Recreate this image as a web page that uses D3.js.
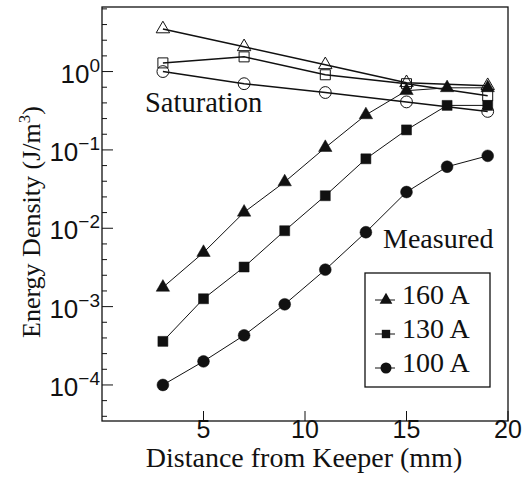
<!DOCTYPE html>
<html>
<head>
<meta charset="utf-8">
<script src="https://cdn.jsdelivr.net/npm/d3@7"></script>
<style>
  body { margin: 0; background: #fff; }
  svg { display: block; }
</style>
</head>
<body>
<svg id="chart" width="523" height="479"></svg>
<script>
// measured series, every 2 mm
const distMeasured = [3, 5, 7, 9, 11, 13, 15, 17, 19];
const measured160 = [0.00176, 0.0049, 0.016, 0.039, 0.107, 0.28, 0.57, 0.62, 0.62];
const measured130 = [0.00036, 0.00126, 0.0032, 0.0093, 0.026, 0.077, 0.18, 0.37, 0.37];
const measured100 = [0.0001, 0.0002, 0.00043, 0.00107, 0.00296, 0.0089, 0.029, 0.061, 0.084];

// saturation series, every 4 mm
const distSat = [3, 7, 11, 15, 19];
const sat160 = [3.5, 2.07, 1.22, 0.72, 0.66];
const sat130 = [1.29, 1.54, 0.91, 0.70, 0.49];
const sat100 = [1.0, 0.70, 0.54, 0.41, 0.31];

const xTicks = [5, 10, 15, 20];
const yExps = [0, -1, -2, -3, -4];
const legendLabels = ["160 A", "130 A", "100 A"];

const svg = d3.select("#chart");
const mLeft = 102, mRight = 508, mTop = 7, mBottom = 421;

const x = d3.scaleLinear().domain([0, 20]).range([mLeft, mRight]);
// ~78.5 px per decade, 10^0 at y=71.7
const y = d3.scaleLog().domain([10 ** -4.46, 10 ** 0.824]).range([mBottom, mTop]);

const serif = "'Liberation Serif', 'Times New Roman', serif";
const sans = "'Liberation Sans', Arial, Helvetica, sans-serif";

// frame
svg.append("rect")
    .attr("x", mLeft).attr("y", mTop)
    .attr("width", mRight - mLeft).attr("height", mBottom - mTop)
    .attr("fill", "none").attr("stroke", "#111").attr("stroke-width", 1.3);

// y ticks: minor every 0.2 decade, inward
const minor = d3.range(-4.4, 0.81, 0.2);
svg.append("g").selectAll("line")
    .data(minor)
    .join("line")
    .attr("x1", mLeft).attr("x2", d => mLeft + (Math.abs(d - Math.round(d)) < 0.01 ? 11 : 5))
    .attr("y1", d => y(10 ** d)).attr("y2", d => y(10 ** d))
    .attr("stroke", "#111").attr("stroke-width", 1);

// x ticks, inward
svg.append("g").selectAll("line")
    .data(xTicks)
    .join("line")
    .attr("x1", d => x(d)).attr("x2", d => x(d))
    .attr("y1", mBottom).attr("y2", mBottom - 10)
    .attr("stroke", "#111").attr("stroke-width", 1);

// x tick labels
svg.append("g").selectAll("text")
    .data(xTicks)
    .join("text")
    .attr("x", d => x(d)).attr("y", 438)
    .attr("text-anchor", "middle")
    .attr("font-family", sans).attr("font-size", 25)
    .attr("fill", "#111")
    .text(d => d);

// y tick labels 10^n
const yl = svg.append("g").selectAll("text")
    .data(yExps)
    .join("text")
    .attr("x", 100).attr("y", d => y(10 ** d) + 11)
    .attr("text-anchor", "end")
    .attr("font-family", sans).attr("font-size", 26)
    .attr("fill", "#111");
yl.append("tspan").text("10");
yl.append("tspan").attr("dy", -11).attr("font-size", 19)
    .text(d => d === 0 ? "0" : "\u2212" + Math.abs(d));

// axis titles
svg.append("text")
    .attr("x", (mLeft + mRight) / 2 - 1).attr("y", 467)
    .attr("text-anchor", "middle")
    .attr("font-family", serif).attr("font-size", 28)
    .attr("fill", "#111")
    .text("Distance from Keeper (mm)");

const yt = svg.append("text")
    .attr("transform", "translate(40,338) rotate(-90)")
    .attr("text-anchor", "start")
    .attr("font-family", serif).attr("font-size", 26)
    .attr("fill", "#111");
yt.append("tspan").text("Energy Density (J/m");
yt.append("tspan").attr("dy", -10).attr("font-size", 17).text("3");
yt.append("tspan").attr("dy", 10).text(")");

// series drawing
const line = d3.line().x(d => x(d[0])).y(d => y(d[1]));
const symType = { tri: d3.symbolTriangle, sq: d3.symbolSquare, circ: d3.symbolCircle };
const symSize = { tri: 78, sq: 100, circ: 110 };

function drawSeries(xs, ys, shape, filled, lw) {
    const pts = xs.map((d, i) => [d, ys[i]]);
    svg.append("path")
        .attr("d", line(pts))
        .attr("fill", "none").attr("stroke", "#111").attr("stroke-width", lw);
    svg.append("g").selectAll("path")
        .data(pts)
        .join("path")
        .attr("transform", d => `translate(${x(d[0])},${y(d[1])})`)
        .attr("d", d3.symbol(symType[shape], symSize[shape]))
        .attr("fill", filled ? "#111" : "#fff")
        .attr("fill-opacity", filled ? 1 : 0)
        .attr("stroke", "#111").attr("stroke-width", filled ? 0.5 : 1);
}

drawSeries(distSat, sat100, "circ", false, 1.5);
drawSeries(distSat, sat130, "sq", false, 1.5);
drawSeries(distSat, sat160, "tri", false, 1.5);
drawSeries(distMeasured, measured160, "tri", true, 1);
drawSeries(distMeasured, measured130, "sq", true, 1);
drawSeries(distMeasured, measured100, "circ", true, 1);

// annotations
svg.append("text")
    .attr("x", 145).attr("y", 112)
    .attr("font-family", serif).attr("font-size", 28.5)
    .attr("fill", "#111")
    .text("Saturation");
svg.append("text")
    .attr("x", 383).attr("y", 248)
    .attr("font-family", serif).attr("font-size", 28)
    .attr("fill", "#111")
    .text("Measured");

// legend
const lg = svg.append("g");
lg.append("rect")
    .attr("x", 365).attr("y", 273).attr("width", 125).attr("height", 114)
    .attr("fill", "#fff").attr("stroke", "#111").attr("stroke-width", 1.3);
const legShapes = ["tri", "sq", "circ"];
const legItem = lg.selectAll("g.item")
    .data(legendLabels)
    .join("g")
    .attr("transform", (d, i) => `translate(0,${300 + i * 34})`);
legItem.append("line")
    .attr("x1", 375).attr("x2", 395).attr("y1", 0).attr("y2", 0)
    .attr("stroke", "#111").attr("stroke-width", 1);
legItem.append("path")
    .attr("transform", "translate(386,0)")
    .attr("d", (d, i) => d3.symbol(symType[legShapes[i]], legShapes[i] === "circ" ? 95 : 70)())
    .attr("fill", "#111");
legItem.append("text")
    .attr("x", 402).attr("y", 4)
    .attr("font-family", serif).attr("font-size", 28)
    .attr("fill", "#111")
    .text(d => d);
</script>
</body>
</html>
